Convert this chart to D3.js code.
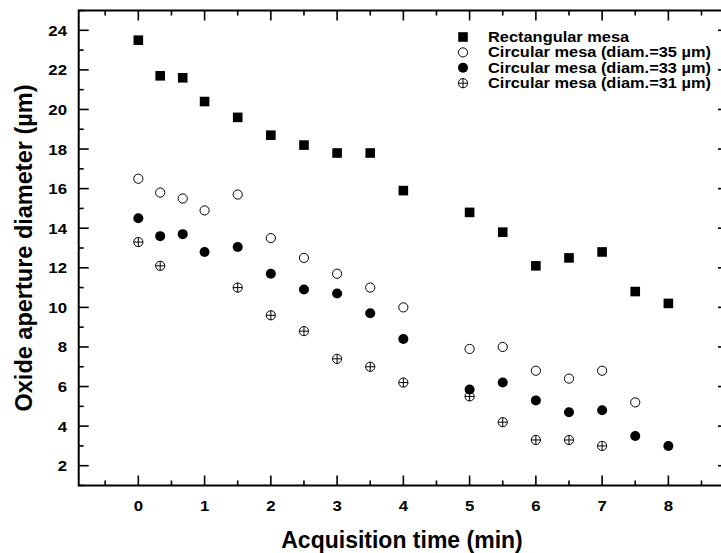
<!DOCTYPE html>
<html>
<head>
<meta charset="utf-8">
<script src="https://cdn.jsdelivr.net/npm/d3@7"></script>
<style>
  body { margin: 0; background: #fff; }
  text { font-family: "Liberation Sans", Arial, sans-serif; font-weight: bold; fill: #000; }
</style>
</head>
<body>
<div id="chart"></div>
<script>
// data
var timeRect = [0, 0.33, 0.67, 1, 1.5, 2, 2.5, 3, 3.5, 4, 5, 5.5, 6, 6.5, 7, 7.5, 8];
var rectMesa = [23.5, 21.7, 21.6, 20.4, 19.6, 18.7, 18.2, 17.8, 17.8, 15.9, 14.8, 13.8, 12.1, 12.5, 12.8, 10.8, 10.2];

var time35 = [0, 0.33, 0.67, 1, 1.5, 2, 2.5, 3, 3.5, 4, 5, 5.5, 6, 6.5, 7, 7.5];
var circ35 = [16.5, 15.8, 15.5, 14.9, 15.7, 13.5, 12.5, 11.7, 11.0, 10.0, 7.9, 8.0, 6.8, 6.4, 6.8, 5.2];

var time33 = [0, 0.33, 0.67, 1, 1.5, 2, 2.5, 3, 3.5, 4, 5, 5.5, 6, 6.5, 7, 7.5, 8];
var circ33 = [14.5, 13.6, 13.7, 12.8, 13.05, 11.7, 10.9, 10.7, 9.7, 8.4, 5.85, 6.2, 5.3, 4.7, 4.8, 3.5, 3.0];

var time31 = [0, 0.33, 1.5, 2, 2.5, 3, 3.5, 4, 5, 5.5, 6, 6.5, 7];
var circ31 = [13.3, 12.1, 11.0, 9.6, 8.8, 7.4, 7.0, 6.2, 5.5, 4.2, 3.3, 3.3, 3.0];

var seriesNames = [
  "Rectangular mesa",
  "Circular mesa (diam.=35 \u00b5m)",
  "Circular mesa (diam.=33 \u00b5m)",
  "Circular mesa (diam.=31 \u00b5m)"
];
var xTicks = [0, 1, 2, 3, 4, 5, 6, 7, 8];
var yTicks = [2, 4, 6, 8, 10, 12, 14, 16, 18, 20, 22, 24];

var svgWidth = 721;
var svgHeight = 553;

var plotLeft = 78.7, plotRight = 728, plotTop = 10.5, plotBottom = 485.5;

var svg = d3.select("#chart")
  .append("svg")
  .attr("width", svgWidth)
  .attr("height", svgHeight);

var x = d3.scaleLinear().domain([-0.9, 8.9]).range([plotLeft, plotRight]);
var y = d3.scaleLinear().domain([1, 25]).range([plotBottom, plotTop]);

var minorX = d3.range(-0.5, 8.9, 1);
var minorY = d3.range(1, 25.1, 2);

// frame
svg.append("rect")
  .attr("x", plotLeft)
  .attr("y", plotTop)
  .attr("width", plotRight - plotLeft)
  .attr("height", plotBottom - plotTop)
  .attr("fill", "none")
  .attr("stroke", "#000")
  .attr("stroke-width", 2);

// ticks on all four sides, pointing inward
function tickLines(vals, len, side) {
  vals.forEach(function(v) {
    var l = svg.append("line").attr("stroke", "#000").attr("stroke-width", 1.6);
    if (side === "bottom") l.attr("x1", x(v)).attr("x2", x(v)).attr("y1", plotBottom).attr("y2", plotBottom - len);
    if (side === "top") l.attr("x1", x(v)).attr("x2", x(v)).attr("y1", plotTop).attr("y2", plotTop + len);
    if (side === "left") l.attr("y1", y(v)).attr("y2", y(v)).attr("x1", plotLeft).attr("x2", plotLeft + len);
    if (side === "right") l.attr("y1", y(v)).attr("y2", y(v)).attr("x1", plotRight).attr("x2", plotRight - len);
  });
}
tickLines(xTicks, 10, "bottom");
tickLines(minorX, 5, "bottom");
tickLines(xTicks, 10, "top");
tickLines(minorX, 5, "top");
tickLines(yTicks, 10, "left");
tickLines(minorY, 5, "left");
tickLines(yTicks, 10, "right");
tickLines(minorY, 5, "right");

// tick labels (the original font is a little wider than Liberation Sans)
svg.selectAll(".xlab")
  .data(xTicks)
  .enter()
  .append("text")
  .attr("transform", d => "translate(" + x(d) + ",511) scale(1.12,1)")
  .attr("text-anchor", "middle")
  .style("font-size", "15px")
  .text(d => d);

svg.selectAll(".ylab")
  .data(yTicks)
  .enter()
  .append("text")
  .attr("transform", d => "translate(67," + (y(d) + 5.5) + ") scale(1.12,1)")
  .attr("text-anchor", "end")
  .style("font-size", "15px")
  .text(d => d);

// axis titles
svg.append("text")
  .attr("x", 402)
  .attr("y", 548)
  .attr("text-anchor", "middle")
  .style("font-size", "23px")
  .text("Acquisition time (min)");

svg.append("text")
  .attr("transform", "translate(32," + ((plotTop + plotBottom) / 2) + ") rotate(-90)")
  .attr("text-anchor", "middle")
  .style("font-size", "23.5px")
  .text("Oxide aperture diameter (\u00b5m)");

// markers
function drawSquare(g, cx, cy) {
  g.append("rect")
    .attr("x", cx - 4.8)
    .attr("y", cy - 4.8)
    .attr("width", 9.6)
    .attr("height", 9.6)
    .attr("fill", "#000");
}
function drawOpen(g, cx, cy) {
  g.append("circle")
    .attr("cx", cx).attr("cy", cy).attr("r", 4.6)
    .attr("fill", "#fff").attr("stroke", "#000").attr("stroke-width", 1);
}
function drawFilled(g, cx, cy) {
  g.append("circle")
    .attr("cx", cx).attr("cy", cy).attr("r", 5)
    .attr("fill", "#000");
}
function drawCrossed(g, cx, cy) {
  g.append("circle")
    .attr("cx", cx).attr("cy", cy).attr("r", 4.6)
    .attr("fill", "#fff").attr("stroke", "#000").attr("stroke-width", 1);
  g.append("line")
    .attr("x1", cx - 4.6).attr("x2", cx + 4.6).attr("y1", cy).attr("y2", cy)
    .attr("stroke", "#000").attr("stroke-width", 1);
  g.append("line")
    .attr("x1", cx).attr("x2", cx).attr("y1", cy - 4.6).attr("y2", cy + 4.6)
    .attr("stroke", "#000").attr("stroke-width", 1);
}

var series = [
  { xs: time35, ys: circ35, draw: drawOpen },
  { xs: time31, ys: circ31, draw: drawCrossed },
  { xs: time33, ys: circ33, draw: drawFilled },
  { xs: timeRect, ys: rectMesa, draw: drawSquare }
];

var marks = svg.append("g");
series.forEach(function(s) {
  s.xs.forEach(function(t, i) {
    s.draw(marks, x(t), y(s.ys[i]));
  });
});

// legend
var legendDraw = [drawSquare, drawOpen, drawFilled, drawCrossed];
var legend = svg.append("g");
seriesNames.forEach(function(name, i) {
  var ly = 37 + i * 15.4;
  legendDraw[i](legend, 463, ly);
  legend.append("text")
    .attr("transform", "translate(488," + (ly + 5) + ") scale(1.13,1)")
    .style("font-size", "14.5px")
    .text(name);
});
</script>
</body>
</html>
